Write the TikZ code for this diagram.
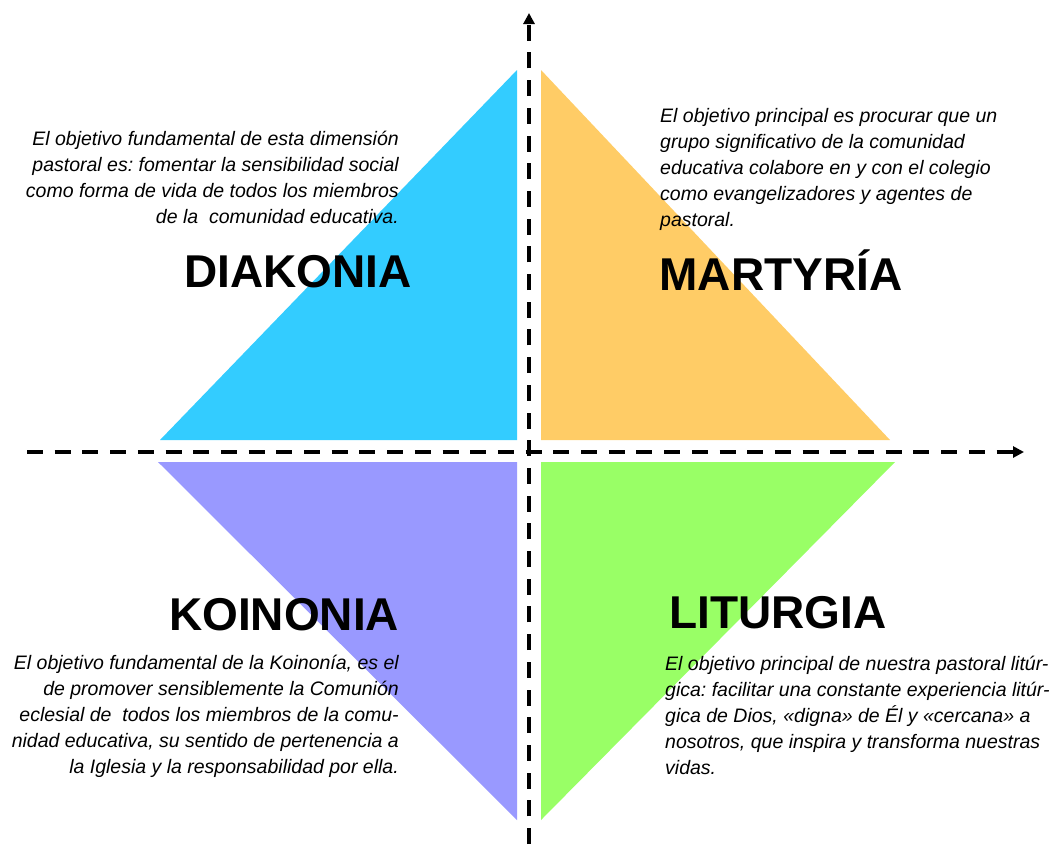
\documentclass[tikz,border=0pt]{standalone}
\usepackage{fontspec}
\setmainfont{Liberation Sans}
\usetikzlibrary{arrows.meta}
\frenchspacing

\definecolor{diakblue}{HTML}{33CCFF}
\definecolor{martorange}{HTML}{FFCC66}
\definecolor{koinpurple}{HTML}{9999FF}
\definecolor{liturgreen}{HTML}{99FF66}

\begin{document}
\begin{tikzpicture}[x=1pt,y=-1pt,
    axis/.style={line width=4pt,dash pattern=on 16pt off 11.7pt,-{Triangle[length=11pt,width=11pt]}},
    title/.style={font=\fontsize{46}{50}\selectfont\bfseries,inner sep=0pt,anchor=base},
    goal/.style={font=\fontsize{19.5}{26}\selectfont\itshape,inner sep=0pt}]
  \useasboundingbox (0,0) rectangle (1056,844);
  % the four quadrants
  \fill[diakblue] (517,70) -- (517,440) -- (160,440) -- cycle;
  \fill[martorange] (541,70) -- (541,440) -- (890,440) -- cycle;
  \fill[koinpurple] (158,462) -- (517,462) -- (517,820) -- cycle;
  \fill[liturgreen] (541,462) -- (895,462) -- (541,820) -- cycle;
  % axes
  \coordinate (xleft) at (27,452);
  \coordinate (xright) at (1024,452);
  \coordinate (ybottom) at (529,844);
  \coordinate (ytop) at (529,13);
  \draw[axis] (xleft) -- (xright);
  \draw[axis] (ybottom) -- (ytop);
  % titles
  \node[title] (diakonia) at (298,287) {DIAKONIA};
  \node[title] (martyria) at (781,290) {MARTYRÍA};
  \node[title] (koinonia) at (284,630) {KOINONIA};
  \node[title] (liturgia) at (778,628) {LITURGIA};
  % goals
  \node[goal,align=right,anchor=north east] (diaktext) at (399,131)
    {El objetivo fundamental de esta dimensión\\
     pastoral es: fomentar la sensibilidad social\\
     como forma de vida de todos los miembros\\
     de la\ \ comunidad educativa.};
  \node[goal,align=left,anchor=north west] (marttext) at (660,108)
    {El objetivo principal es procurar que un\\
     grupo significativo de la comunidad\\
     educativa colabore en y con el colegio\\
     como evangelizadores y agentes de\\
     pastoral.};
  \node[goal,align=right,anchor=north east] (kointext) at (399,655)
    {El objetivo fundamental de la Koinonía, es el\\
     de promover sensiblemente la Comunión\\
     eclesial de\ \ todos los miembros de la comu-\\
     nidad educativa, su sentido de pertenencia a\\
     la Iglesia y la responsabilidad por ella.};
  \node[goal,align=left,anchor=north west] (litutext) at (665,656)
    {El objetivo principal de nuestra pastoral litúr-\\
     gica: facilitar una constante experiencia litúr-\\
     gica de Dios, «digna» de Él y «cercana» a\\
     nosotros, que inspira y transforma nuestras\\
     vidas.};
\end{tikzpicture}
\end{document}
